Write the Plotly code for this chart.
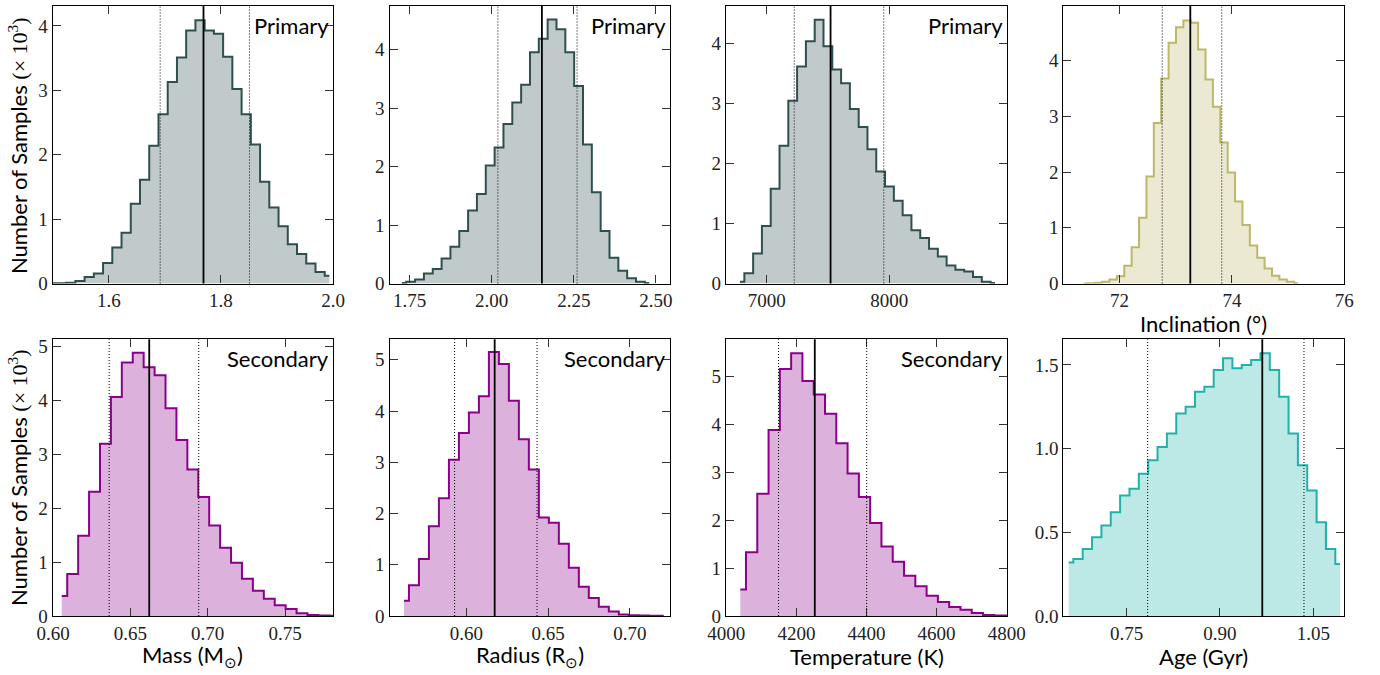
import numpy as np
import plotly.graph_objects as go

# ---------------- data ----------------
# Primary mass (M_sun): bin centres start/step and counts (x 10^3)
mass1_c0, mass1_dx = 1.4992, 0.016476
mass1_counts = [0.003, 0.005, 0.01, 0.04, 0.10, 0.155, 0.32, 0.56, 0.79, 1.24, 1.61, 2.14, 2.63,
                3.13, 3.51, 3.93, 4.09, 3.93, 3.88, 3.52, 3.02, 2.63, 2.16, 1.58, 1.18, 0.89,
                0.61, 0.46, 0.31, 0.18, 0.12]
mass1_med, mass1_lo, mass1_hi = 1.769, 1.6917, 1.851

# Primary radius (R_sun)
rad1_c0, rad1_dx = 1.7265, 0.026907
rad1_counts = [0.01, 0.03, 0.07, 0.17, 0.25, 0.43, 0.63, 0.90, 1.25, 1.53, 2.02, 2.33, 2.73,
               3.10, 3.40, 3.96, 4.19, 4.52, 4.35, 3.96, 3.38, 2.38, 1.56, 0.90, 0.44, 0.22,
               0.09, 0.03, 0.01]
rad1_med, rad1_lo, rad1_hi = 2.153, 2.019, 2.26

# Primary temperature (K)
teff1_c0, teff1_dx = 6781.8, 71.8
teff1_counts = [0.03, 0.17, 0.50, 0.96, 1.58, 2.30, 3.05, 3.62, 4.04, 4.40, 3.96, 3.57, 3.34,
                2.91, 2.61, 2.24, 1.87, 1.62, 1.38, 1.14, 0.89, 0.76, 0.58, 0.45, 0.30, 0.23,
                0.20, 0.11, 0.03, 0.01]
teff1_med, teff1_lo, teff1_hi = 7521.6, 7225.0, 7956.0

# Inclination (deg)
inc_c0, inc_dx = 71.362, 0.13143
inc_counts = [0.002, 0.005, 0.015, 0.03, 0.07, 0.13, 0.32, 0.65, 1.18, 1.92, 2.88, 3.68, 4.32,
              4.60, 4.72, 4.68, 4.20, 3.66, 3.17, 2.53, 1.99, 1.47, 1.05, 0.68, 0.46, 0.27,
              0.14, 0.07, 0.03, 0.01]
inc_med, inc_lo, inc_hi = 73.26, 72.76, 73.82

# Secondary mass
mass2_c0, mass2_dx = 0.60566, 0.00706
mass2_counts = [0.37, 0.78, 1.49, 2.31, 3.20, 4.07, 4.71, 4.89, 4.62, 4.47, 3.86, 3.27, 2.72,
                2.21, 1.68, 1.27, 0.99, 0.69, 0.47, 0.32, 0.20, 0.13, 0.05, 0.02, 0.01, 0.005]
mass2_med, mass2_lo, mass2_hi = 0.6622, 0.6363, 0.6942

# Secondary radius
rad2_c0, rad2_dx = 0.56183, 0.00611
rad2_counts = [0.30, 0.60, 1.11, 1.75, 2.30, 3.05, 3.57, 3.97, 4.29, 5.15, 4.92, 4.20, 3.45,
               2.86, 1.92, 1.82, 1.41, 0.94, 0.57, 0.35, 0.18, 0.09, 0.03, 0.015, 0.01, 0.005,
               0.003]
rad2_med, rad2_lo, rad2_hi = 0.6173, 0.5928, 0.6432

# Secondary temperature
teff2_c0, teff2_dx = 4039.9, 32.22
teff2_counts = [0.55, 1.33, 2.55, 3.88, 5.15, 5.48, 4.90, 4.62, 4.22, 3.60, 2.97, 2.48, 1.94,
                1.45, 1.13, 0.84, 0.62, 0.42, 0.29, 0.19, 0.13, 0.06, 0.02, 0.01, 0.005]
teff2_med, teff2_lo, teff2_hi = 4252.4, 4149.0, 4400.5

# Age (Gyr)
age_c0, age_dx = 0.65679, 0.015038
age_counts = [0.32, 0.34, 0.40, 0.47, 0.54, 0.62, 0.72, 0.76, 0.85, 0.93, 1.01, 1.09, 1.21,
              1.25, 1.34, 1.37, 1.47, 1.54, 1.48, 1.50, 1.53, 1.57, 1.47, 1.31, 1.09, 0.90,
              0.75, 0.56, 0.40, 0.31]
age_med, age_lo, age_hi = 0.968, 0.7838, 1.035

# tick labels
mass1_ticks = ["1.6", "1.8", "2.0"]
rad1_ticks = ["1.75", "2.00", "2.25", "2.50"]
teff1_ticks = ["7000", "8000"]
inc_ticks = ["72", "74", "76"]
mass2_ticks = ["0.60", "0.65", "0.70", "0.75"]
rad2_ticks = ["0.60", "0.65", "0.70"]
teff2_ticks = ["4000", "4200", "4400", "4600", "4800"]
age_ticks = ["0.75", "0.90", "1.05"]
count_ticks = ["0", "1", "2", "3", "4", "5"]
age_count_ticks = ["0.0", "0.5", "1.0", "1.5"]

# ---------------- styling / layout ----------------
W, H = 1380, 675
col_px = [(52.7, 333.0), (389.5, 670.0), (726.0, 1007.0), (1063.3, 1344.3)]
row_px = [(6.0, 283.5), (339.3, 616.0)]

SANS = "Lato"
SERIF = "Liberation Serif, serif"

PRIM = ("#2f4f4f", "rgba(47,79,79,0.3)")
INC = ("#bdb76b", "rgba(189,183,107,0.3)")
SEC = ("#8b008b", "rgba(139,0,139,0.3)")
AGE = ("#20b2aa", "rgba(32,178,170,0.3)")

panels = [
    dict(r=0, c=0, c0=mass1_c0, dx=mass1_dx, y=mass1_counts, col=PRIM, xr=[1.5, 2.0], yr=[0, 4.31],
         xt=mass1_ticks, yt=count_ticks[:5], v=(mass1_med, mass1_lo, mass1_hi), lab="Primary"),
    dict(r=0, c=1, c0=rad1_c0, dx=rad1_dx, y=rad1_counts, col=PRIM, xr=[1.689, 2.543], yr=[0, 4.75],
         xt=rad1_ticks, yt=count_ticks[:5], v=(rad1_med, rad1_lo, rad1_hi), lab="Primary"),
    dict(r=0, c=2, c0=teff1_c0, dx=teff1_dx, y=teff1_counts, col=PRIM, xr=[6668, 8962], yr=[0, 4.63],
         xt=teff1_ticks, yt=count_ticks[:5], v=(teff1_med, teff1_lo, teff1_hi), lab="Primary"),
    dict(r=0, c=3, c0=inc_c0, dx=inc_dx, y=inc_counts, col=INC, xr=[71.0, 76.0], yr=[0, 4.98],
         xt=inc_ticks, yt=count_ticks[:5], v=(inc_med, inc_lo, inc_hi), lab=None),
    dict(r=1, c=0, c0=mass2_c0, dx=mass2_dx, y=mass2_counts, col=SEC, xr=[0.5998, 0.781], yr=[0, 5.14],
         xt=mass2_ticks, yt=count_ticks, v=(mass2_med, mass2_lo, mass2_hi), lab="Secondary"),
    dict(r=1, c=1, c0=rad2_c0, dx=rad2_dx, y=rad2_counts, col=SEC, xr=[0.553, 0.7245], yr=[0, 5.40],
         xt=rad2_ticks, yt=count_ticks, v=(rad2_med, rad2_lo, rad2_hi), lab="Secondary"),
    dict(r=1, c=2, c0=teff2_c0, dx=teff2_dx, y=teff2_counts, col=SEC, xr=[3999, 4801], yr=[0, 5.77],
         xt=teff2_ticks, yt=count_ticks, v=(teff2_med, teff2_lo, teff2_hi), lab="Secondary"),
    dict(r=1, c=3, c0=age_c0, dx=age_dx, y=age_counts, col=AGE, xr=[0.6482, 1.0998], yr=[0, 1.653],
         xt=age_ticks, yt=age_count_ticks, v=(age_med, age_lo, age_hi), lab=None),
]

fig = go.Figure()
layout = dict(width=W, height=H, margin=dict(l=0, r=0, t=0, b=0, pad=0, autoexpand=False),
              paper_bgcolor="white", plot_bgcolor="white", showlegend=False)
shapes, annots = [], []

tickfont = dict(family=SERIF, size=19, color="#222")

for i, p in enumerate(panels, start=1):
    xn = "x" if i == 1 else f"x{i}"
    yn = "y" if i == 1 else f"y{i}"
    xk = "xaxis" if i == 1 else f"xaxis{i}"
    yk = "yaxis" if i == 1 else f"yaxis{i}"
    (x0p, x1p), (y0p, y1p) = col_px[p["c"]], row_px[p["r"]]
    xs = p["c0"] + p["dx"] * np.arange(len(p["y"]))
    lc, fc = p["col"]
    fig.add_trace(go.Scatter(x=xs, y=p["y"], mode="lines", xaxis=xn, yaxis=yn,
                             line=dict(shape="hvh", color=lc, width=2),
                             fill="tozeroy", fillcolor=fc, hoverinfo="skip"))
    xvals = [float(t) for t in p["xt"]]
    yvals = [float(t) for t in p["yt"]]
    common = dict(showline=True, linecolor="black", linewidth=1.2, mirror="ticks", ticks="inside",
                  ticklen=8, tickwidth=1.2, tickcolor="#333", showgrid=False, zeroline=False,
                  tickfont=tickfont, automargin=False)
    layout[xk] = dict(domain=[x0p / W, x1p / W], anchor=yn, range=p["xr"],
                      tickvals=xvals, ticktext=p["xt"], **common)
    layout[yk] = dict(domain=[(H - y1p) / H, (H - y0p) / H], anchor=xn, range=p["yr"],
                      tickvals=yvals, ticktext=p["yt"], **common)
    med, lo, hi = p["v"]
    for xv, dash, w in [(lo, "1px,2px", 1), (hi, "1px,2px", 1), (med, "solid", 1.8)]:
        shapes.append(dict(type="line", xref=xn, yref=f"{yn} domain", x0=xv, x1=xv, y0=0, y1=1,
                           line=dict(color="black", width=w, dash=dash)))
    if p["lab"]:
        annots.append(dict(text=p["lab"], xref=f"{xn} domain", yref=f"{yn} domain", x=1, y=1,
                           xanchor="right", yanchor="top", xshift=-2, yshift=-4, showarrow=False,
                           font=dict(family=SANS, size=22, color="black")))

# axis titles
xtitles = [(4, "Inclination (°)", (675 - 323) / H),
           (5, "Mass (M<sub>⊙</sub>)", (675 - 656) / H),
           (6, "Radius (R<sub>⊙</sub>)", (675 - 656) / H),
           (7, "Temperature (K)", (675 - 656) / H),
           (8, "Age (Gyr)", (675 - 656) / H)]
for i, t, yy in xtitles:
    annots.append(dict(text=t, xref=f"x{i} domain", yref="paper", x=0.5, y=yy, xanchor="center",
                       yanchor="middle", showarrow=False, font=dict(family=SANS, size=22, color="black")))
ytitle = 'Number of Samples <span style="font-family:Liberation Serif">(× 10<sup>3</sup>)</span>'
for yc in [(675 - 146) / H, (675 - 478) / H]:
    annots.append(dict(text=ytitle, xref="paper", yref="paper", x=18 / W, y=yc, xanchor="center",
                       yanchor="middle", textangle=-90, showarrow=False,
                       font=dict(family=SANS, size=22, color="black")))

layout["shapes"] = shapes
layout["annotations"] = annots
fig.update_layout(**layout)
fig.write_html("out.html")
